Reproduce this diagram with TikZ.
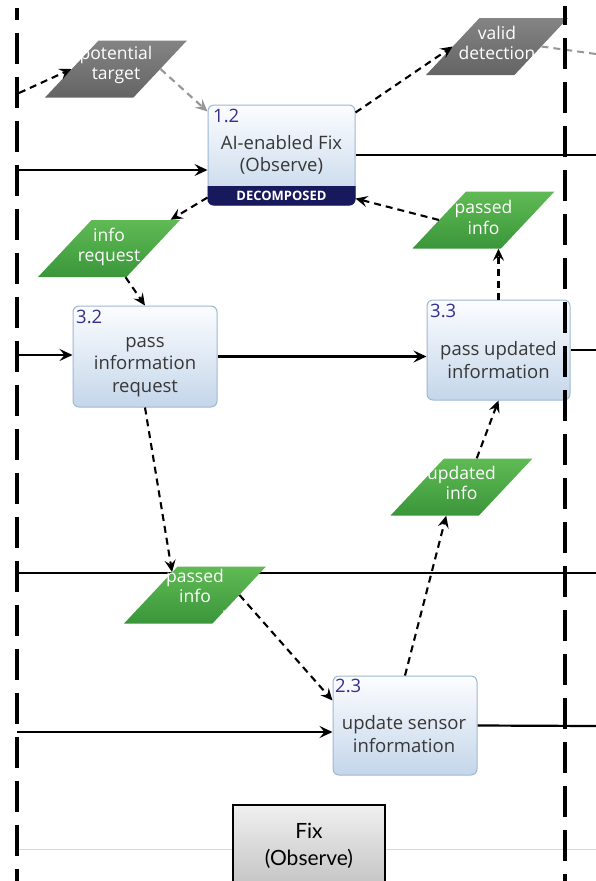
\documentclass[tikz,border=0pt]{standalone}
\usepackage{fontspec}
\setmainfont{Open Sans}
\newfontfamily\captionfont{Lato}
\usetikzlibrary{arrows.meta,shapes.geometric,backgrounds}

\definecolor{boxtop}{RGB}{252,253,255}
\definecolor{boxbot}{RGB}{196,214,234}
\definecolor{boxedge}{RGB}{158,184,210}
\definecolor{numblue}{RGB}{52,48,140}
\definecolor{txtgray}{RGB}{55,55,55}
\definecolor{navyband}{RGB}{24,24,92}
\definecolor{greentop}{RGB}{96,186,84}
\definecolor{greenbot}{RGB}{58,150,58}
\definecolor{graytop}{RGB}{132,132,132}
\definecolor{graybot}{RGB}{100,100,100}
\definecolor{flowgray}{RGB}{150,150,150}
\definecolor{rulegray}{RGB}{215,215,215}

\tikzset{
  procbox/.style={draw=boxedge, line width=1pt, rounded corners=6pt,
    top color=boxtop, bottom color=boxbot, inner sep=0pt},
  proctext/.style={text=txtgray, align=center, inner sep=0pt,
    font=\fontsize{18.5}{22.5}\selectfont},
  procnum/.style={text=numblue, anchor=base west, inner sep=0pt,
    font=\fontsize{18.5}{18.5}\selectfont},
  bandtext/.style={text=white, inner sep=0pt,
    font=\bfseries\fontsize{13}{13}\selectfont},
  datashape/.style={trapezium, trapezium left angle=69, trapezium right angle=111,
    trapezium stretches=true, minimum width=142pt, minimum height=57pt, inner sep=2pt},
  greendata/.style={datashape, top color=greentop, bottom color=greenbot},
  graydata/.style={datashape, top color=graytop, bottom color=graybot},
  datatext/.style={text=white, align=center, inner sep=0pt,
    font=\fontsize{17.5}{20.5}\selectfont},
  lane/.style={line width=4pt, dash pattern=on 31pt off 13pt},
  flow/.style={line width=2.2pt, -{Stealth[length=13pt,width=12pt,inset=5pt]}},
  plainflow/.style={line width=2.2pt},
  dflow/.style={line width=2.1pt, dash pattern=on 7pt off 5pt,
    -{Stealth[length=12pt,width=11pt,inset=4.5pt]}},
  fixbox/.style={draw=black, line width=1.4pt, top color=black!6, bottom color=black!24,
    minimum width=152pt, minimum height=85pt, inner sep=0pt},
}

\begin{document}
\begin{tikzpicture}[x=1pt,y=-1pt]
\useasboundingbox (0,0) rectangle (596,881);
\fill[white] (0,0) rectangle (596,881);

% free ends of the flows on the lanes and at the right border
\coordinate (L1) at (17,170);  \coordinate (R1) at (596,155);
\coordinate (L2) at (17,355);  \coordinate (R2) at (596,350);
\coordinate (L3) at (17,573);  \coordinate (R3) at (596,573);
\coordinate (L4) at (17,732);  \coordinate (R4) at (596,726);
\coordinate (Lpt) at (19,93);  \coordinate (Rvd) at (596,54);
\coordinate (G1) at (17,849);  \coordinate (G2) at (596,849);
\coordinate (LaneAtop) at (17,8);   \coordinate (LaneAbot) at (17,885);
\coordinate (LaneBtop) at (565,6);  \coordinate (LaneBbot) at (565,885);

% lines that pass behind shapes
\draw[plainflow] (L3) -- (R3);
\draw[rulegray, line width=0.8pt] (G1) -- (G2);

% activities
\node[procbox, minimum width=147pt, minimum height=100pt] (b12) at (281.5,155) {};
\begin{scope}
  \clip (b12.south west) rectangle ([yshift=19pt]b12.south east);
  \fill[navyband, rounded corners=6pt] (b12.south west) rectangle (b12.north east);
\end{scope}
\node[bandtext] (b12d) at ([yshift=10pt]b12.south) {DECOMPOSED};
\node[procnum] (b12n) at (213,122) {1.2};
\node[proctext] (b12t) at (281.5,155) {AI-enabled Fix\\(Observe)};

\node[procbox, minimum width=144pt, minimum height=101pt] (b32) at (145,356.5) {};
\node[procnum] (b32n) at (76,323) {3.2};
\node[proctext] (b32t) at (145,367) {pass\\information\\request};

\node[procbox, minimum width=143pt, minimum height=100pt] (b33) at (498.5,350) {};
\node[procnum] (b33n) at (430,317) {3.3};
\node[proctext] (b33t) at (498.5,360) {pass updated\\information};

\node[procbox, minimum width=144pt, minimum height=99pt] (b23) at (405,725.5) {};
\node[procnum] (b23n) at (335,692) {2.3};
\node[proctext] (b23t) at (404,734) {update sensor\\information};

% data items
\node[graydata] (pt) at (116,69) {\strut};
\node[datatext] (ptt) at (116,65) {potential\\target};
\node[graydata] (vd) at (497,46.5) {\strut};
\node[datatext] (vdt) at (497,43) {valid\\detection};
\node[greendata] (ir) at (109,248.5) {\strut};
\node[datatext] (irt) at (109,247) {info\\request};
\node[greendata] (pi1) at (483.5,220) {\strut};
\node[datatext] (pi1t) at (483.5,217.5) {passed\\info};
\node[greendata] (ui) at (461.5,487) {\strut};
\node[datatext] (uit) at (461.5,483) {updated\\info};
\node[greendata] (pi2) at (195,595) {\strut};
\node[datatext] (pi2t) at (195,586) {passed\\info};
\fill[white] (224,611) circle (0.9pt);

% swimlane caption
\node[fixbox] (fix) at (309,847.5) {};
\node[text=black, align=center, inner sep=0pt, font=\captionfont\fontsize{21}{27}\selectfont]
  (fixt) at (309,846) {Fix\\(Observe)};

% control flows
\draw[flow] (L1) -- (L1 -| b12.west);
\draw[plainflow] (b12.east) -- (R1);
\draw[flow] (L2) -- (L2 -| b32.west);
\draw[flow] (b32.east) -- (b32.east -| b33.west);
\draw[plainflow] (b33.east) -- (R2);
\draw[flow] (L4) -- (L4 -| b23.west);
\draw[plainflow] (b23.east) -- (R4);

% data flows
\draw[dflow] (Lpt) -- (pt.west);
\draw[dflow, flowgray] (pt.east) -- ([yshift=-7pt]b12.north west);
\draw[dflow] ([yshift=-8pt]b12.north east) -- (vd.west);
\draw[flowgray, line width=2pt, dash pattern=on 7pt off 5pt] (vd.east) -- (Rvd);
\draw[dflow] ([yshift=8pt]b12.south west) -- (ir.25);
\draw[dflow] (ir.-60) -- (b32.north);
\draw[dflow] (b32.south) -- (pi2.135);
\draw[dflow] (pi2.east) -- ([yshift=25pt]b23.west);
\draw[dflow] (b23.north) -- (ui.-118);
\draw[dflow] (ui.62) -- (b33.south);
\draw[dflow] (b33.north) -- (b33.north |- pi1.south);
\draw[dflow] (pi1.west) -- ([yshift=7pt]b12.south east);

% swimlane borders
\draw[lane, dash phase=19pt] (LaneAtop) -- (LaneAbot);
\draw[lane, dash phase=12pt] (LaneBtop) -- (LaneBbot);
\end{tikzpicture}
\end{document}
